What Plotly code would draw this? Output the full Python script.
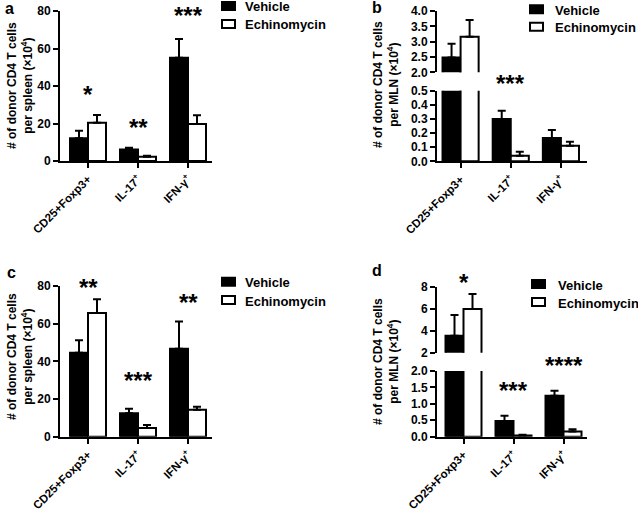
import plotly.graph_objects as go

# ---------------- data ----------------
categories = ["CD25+Foxp3+", "IL-17<sup>+</sup>", "IFN-γ<sup>+</sup>"]
series = ["Vehicle", "Echinomycin"]

# panel a: spleen (first experiment)
a_vehicle = [12.1, 6.2, 55.1]
a_vehicle_err = [4.1, 0.9, 10.0]
a_echino = [20.4, 2.3, 19.7]
a_echino_err = [4.1, 0.5, 4.7]
a_stars = ["*", "**", "***"]

# panel b: MLN (first experiment)
b_vehicle = [2.48, 0.30, 0.165]
b_vehicle_err = [0.45, 0.058, 0.057]
b_echino = [3.16, 0.04, 0.111]
b_echino_err = [0.55, 0.028, 0.028]
b_stars = ["", "***", ""]

# panel c: spleen (second experiment)
c_vehicle = [44.6, 12.4, 46.7]
c_vehicle_err = [6.6, 2.5, 14.4]
c_echino = [65.7, 4.6, 14.3]
c_echino_err = [7.3, 1.6, 1.6]
c_stars = ["**", "***", "**"]

# panel d: MLN (second experiment)
d_vehicle = [3.55, 0.48, 1.25]
d_vehicle_err = [1.87, 0.16, 0.15]
d_echino = [5.97, 0.04, 0.16]
d_echino_err = [1.36, 0.02, 0.07]
d_stars = ["*", "***", "****"]

# ---------------- layout helpers ----------------
W, H = 638, 509
FONT = "Liberation Sans, Arial, sans-serif"


def xd(p0, p1):
    return [p0 / W, p1 / W]


def yd(top, bot):
    return [1 - bot / H, 1 - top / H]


def px(p):
    return p / W


def py(p):
    return 1 - p / H


fig = go.Figure()

FILL = {"Vehicle": "black", "Echinomycin": "white"}


def add_pair(xa, ya, veh, veh_err, ech, ech_err):
    for name, vals, errs in (("Vehicle", veh, veh_err), ("Echinomycin", ech, ech_err)):
        fig.add_trace(go.Bar(
            x=categories, y=vals, name=name,
            xaxis=xa, yaxis=ya,
            marker=dict(color=FILL[name], line=dict(color="black", width=2)),
            error_y=dict(type="data", array=errs, arrayminus=[0] * len(errs),
                         symmetric=False, color="black", thickness=2, width=4),
            showlegend=False,
        ))


add_pair("x", "y", a_vehicle, a_vehicle_err, a_echino, a_echino_err)
add_pair("x2", "y2", b_vehicle, b_vehicle_err, b_echino, b_echino_err)
add_pair("x3", "y3", b_vehicle, b_vehicle_err, b_echino, b_echino_err)
add_pair("x4", "y4", c_vehicle, c_vehicle_err, c_echino, c_echino_err)
add_pair("x5", "y5", d_vehicle, d_vehicle_err, d_echino, d_echino_err)
add_pair("x6", "y6", d_vehicle, d_vehicle_err, d_echino, d_echino_err)

ytickfont = dict(family=FONT, size=12, color="black", weight="bold")
xtickfont = dict(family=FONT, size=11.5, color="black", weight="bold")


def xaxis(domain, rng, anchor, visible=True):
    return dict(domain=domain, range=rng, anchor=anchor, visible=visible,
                showline=True, linecolor="black", linewidth=2,
                ticks="outside", ticklen=5, tickwidth=2, tickcolor="black",
                tickangle=-45, tickfont=xtickfont, showgrid=False, zeroline=False,
                fixedrange=True, automargin=False)


def yaxis(domain, rng, dtick, anchor, fmt=None):
    d = dict(domain=domain, range=rng, dtick=dtick, tick0=0, anchor=anchor,
             showline=True, linecolor="black", linewidth=2,
             ticks="outside", ticklen=5, tickwidth=2, tickcolor="black",
             tickfont=ytickfont, showgrid=False, zeroline=False, fixedrange=True,
             automargin=False)
    if fmt:
        d["tickformat"] = fmt
    return d


xa_ac, xa_b, xa_d = xd(60, 212), xd(437, 587), xd(437, 587)
fig.update_layout(
    xaxis=xaxis(xa_ac, [-0.56, 2.48], "y"),
    yaxis=yaxis(yd(11, 161), [0, 80], 20, "x"),
    xaxis2=xaxis(xa_b, [-0.47, 2.52], "y2"),
    yaxis2=yaxis(yd(90.7, 161.3), [0, 0.5], 0.1, "x2", ".1f"),
    xaxis3=xaxis(xa_b, [-0.47, 2.52], "y3", visible=False),
    yaxis3=yaxis(yd(11, 72.3), [2, 4], 0.5, "x3", ".1f"),
    xaxis4=xaxis(xa_ac, [-0.56, 2.48], "y4"),
    yaxis4=yaxis(yd(286, 436.7), [0, 80], 20, "x4"),
    xaxis5=xaxis(xa_d, [-0.53, 2.47], "y5"),
    yaxis5=yaxis(yd(371, 436.7), [0, 2], 0.5, "x5", ".1f"),
    xaxis6=xaxis(xa_d, [-0.53, 2.47], "y6", visible=False),
    yaxis6=yaxis(yd(286.7, 352.7), [2, 8], 2, "x6"),
)

ann = []
shapes = []

# legends drawn as keys: (square left px, text left px, vehicle centre y, echinomycin centre y)
legend_keys = [(221, 243, 6, 24), (529, 553, 9.3, 26.7), (221, 243, 281.7, 300), (531, 556, 284, 302)]
for sx, tx, y1, y2 in legend_keys:
    for name, yc in zip(series, (y1, y2)):
        shapes.append(dict(type="rect", xref="paper", yref="paper",
                           x0=px(sx + 1), x1=px(sx + 14), y0=py(yc + 4), y1=py(yc - 4),
                           fillcolor=FILL[name], line=dict(color="black", width=2)))
        ann.append(dict(text=name, x=px(tx), y=py(yc), xref="paper", yref="paper",
                        xanchor="left", yanchor="middle", showarrow=False, yshift=-1,
                        font=dict(family=FONT, size=13, color="black", weight="bold")))

# panel letters
for letter, x, y in (("a", 9, 8), ("b", 377, 7), ("c", 11, 272), ("d", 377, 270)):
    ann.append(dict(text=letter, x=px(x), y=py(y), xref="paper", yref="paper",
                    xanchor="center", yanchor="middle", showarrow=False,
                    font=dict(family=FONT, size=16, color="black", weight="bold")))

# y axis titles
titles = [
    ("# of donor CD4 T cells<br>per spleen (×10<sup>4</sup>)", 20, 86),
    ("# of donor CD4 T cells<br>per MLN (×10<sup>4</sup>)", 386, 85),
    ("# of donor CD4 T cells<br>per spleen (×10<sup>4</sup>)", 20, 357),
    ("# of donor CD4 T cells<br>per MLN (×10<sup>4</sup>)", 386, 362),
]
for t, x, y in titles:
    ann.append(dict(text=t, x=px(x), y=py(y), xref="paper", yref="paper",
                    xanchor="center", yanchor="middle", textangle=-90, showarrow=False,
                    font=dict(family=FONT, size=12, color="black", weight="bold")))

# significance stars (glyph centre heights in pixels)
star_sets = [
    ("x", a_stars, [92, 126, 13]),
    ("x2", b_stars, [0, 81.7, 0]),
    ("x4", c_stars, [285.7, 378.3, 300.7]),
    ("x5", d_stars, [280, 388.3, 363.3]),
]
for xr, stars, ys in star_sets:
    for cat, s, y in zip(categories, stars, ys):
        if not s:
            continue
        ann.append(dict(text=s, x=cat, y=py(y), xref=xr, yref="paper",
                        xanchor="center", yanchor="middle", yshift=-2, showarrow=False,
                        font=dict(family=FONT, size=24, color="black", weight="bold")))

fig.update_layout(
    annotations=ann,
    shapes=shapes,
    showlegend=False,
    width=W, height=H, autosize=False,
    margin=dict(l=0, r=0, t=0, b=0, pad=0),
    paper_bgcolor="white", plot_bgcolor="white",
    barmode="group", bargap=0.28, bargroupgap=0,
    font=dict(family=FONT, color="black"),
)

fig.write_html("out.html", config={"displayModeBar": False},
               post_script="document.body.style.margin='0';document.body.style.overflow='hidden';")
